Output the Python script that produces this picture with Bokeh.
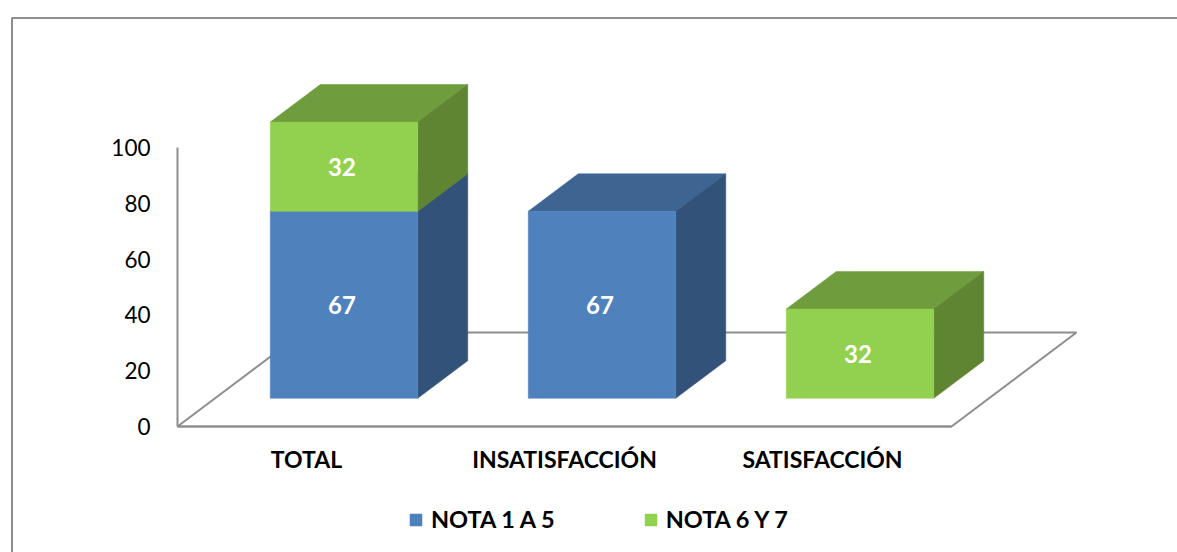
from bokeh.embed import file_html
from bokeh.resources import INLINE
from bokeh.plotting import figure
from bokeh.models import (ColumnDataSource, FixedTicker, Legend, LegendItem,
                          LinearAxis, Range1d)
from bokeh.core.properties import value

# ---- data ----
categories = ["TOTAL", "INSATISFACCIÓN", "SATISFACCIÓN"]
nota_1_a_5 = [67, 67, 0]
nota_6_y_7 = [32, 0, 32]
series_names = ["NOTA 1 A 5", "NOTA 6 Y 7"]
y_ticks = [0, 20, 40, 60, 80, 100]

# ---- style ----
FRONT = ["#4F81BD", "#92D050"]
SIDE = ["#32527A", "#5F8432"]
TOP = ["#3E6591", "#6F9C3C"]
GREY = "#8E8E8E"
FONT = "Lato"

W, H = 1177, 552
PX_X, PX_Y = 258.0, 2.79        # pixels per category, pixels per value unit
ORIGIN_X, ORIGIN_Y = 177.0, 426.0   # data (0,0) inside the canvas
DEPTH_X, DEPTH_Y = 125 / PX_X, 94 / PX_Y   # oblique shift of the full floor depth
HALF = 147.5 / 2 / PX_X
D0, D1 = 0.30, 0.70             # bar depth span on the floor


def proj(x, v, d):
    return x + d * DEPTH_X, v + d * DEPTH_Y


def quad(points):
    pts = [proj(*pt) for pt in points]
    return [a for a, _ in pts], [b for _, b in pts]


x0, x1 = -ORIGIN_X / PX_X, (W - ORIGIN_X) / PX_X
y1, y0 = ORIGIN_Y / PX_Y, -(H - ORIGIN_Y) / PX_Y

p = figure(width=W, height=H, output_backend="svg", toolbar_location=None,
           x_range=Range1d(x0, x1), y_range=Range1d(y0, y1),
           x_axis_location=None, y_axis_location=None,
           min_border=0, min_border_left=0, min_border_right=0,
           min_border_top=0, min_border_bottom=0,
           background_fill_color="white", border_fill_color="white")
p.outline_line_color = None
p.grid.visible = False

# outer frame of the chart object (right and bottom fall outside the picture)
fx, fy = x0 + 11.5 / PX_X, y1 - 17.5 / PX_Y
p.line([fx, fx, x1], [y0, fy, fy], line_color=GREY, line_width=2)

# floor outline
n = len(categories)
floor_x, floor_y = quad([(0, 0, 0), (n, 0, 0), (n, 0, 1), (0, 0, 1)])
p.patch(floor_x, floor_y, fill_color=None, line_color=GREY, line_width=2)

# bars
legend_items = []
bottoms = [0.0] * n
for s, vals in enumerate([nota_1_a_5, nota_6_y_7]):
    fronts, sides, tops = ([], []), ([], []), ([], [])
    lab_x, lab_y, lab_t = [], [], []
    for i, val in enumerate(vals):
        if val == 0:
            continue
        l, r = i + 0.5 - HALF, i + 0.5 + HALF
        b, t = bottoms[i], bottoms[i] + val
        bottoms[i] = t
        for store, pts in (
            (fronts, [(l, b, D0), (r, b, D0), (r, t, D0), (l, t, D0)]),
            (sides, [(r, b, D0), (r, b, D1), (r, t, D1), (r, t, D0)]),
            (tops, [(l, t, D0), (r, t, D0), (r, t, D1), (l, t, D1)]),
        ):
            xs, ys = quad(pts)
            store[0].append(xs)
            store[1].append(ys)
        cx, cy = proj(i + 0.5, (b + t) / 2, D0)
        lab_x.append(cx)
        lab_y.append(cy)
        lab_t.append(str(val))
    p.patches(tops[0], tops[1], fill_color=TOP[s], line_color=TOP[s], line_width=0.5)
    p.patches(sides[0], sides[1], fill_color=SIDE[s], line_color=SIDE[s], line_width=0.5)
    r_front = p.patches(fronts[0], fronts[1], fill_color=FRONT[s], line_color=FRONT[s], line_width=0.5)
    legend_items.append(LegendItem(label=series_names[s], renderers=[r_front]))
    p.text(x="x", y="y", text="t",
           source=ColumnDataSource(dict(x=lab_x, y=lab_y, t=lab_t)),
           text_color="white", text_font=value(FONT), text_font_style="bold",
           text_font_size="24px", text_align="center", text_baseline="middle",
           x_offset=-2)

# axes placed inside the frame at the chart's origin
yax = LinearAxis(fixed_location=0, ticker=FixedTicker(ticks=y_ticks), bounds=(0, 100))
yax.axis_line_color = GREY
yax.axis_line_width = 2
yax.major_tick_line_color = None
yax.minor_tick_line_color = None
yax.major_label_standoff = 21
yax.major_label_text_font = FONT
yax.major_label_text_font_size = "22.5px"
yax.major_label_text_color = "#000000"
p.add_layout(yax, "left")

xax = LinearAxis(fixed_location=0, ticker=FixedTicker(ticks=[i + 0.5 for i in range(n)]),
                 bounds=(0, n))
xax.major_label_overrides = {i + 0.5: c for i, c in enumerate(categories)}
xax.axis_line_color = GREY
xax.axis_line_width = 2
xax.major_tick_line_color = None
xax.minor_tick_line_color = None
xax.major_label_standoff = 12
xax.major_label_text_font = FONT
xax.major_label_text_font_style = "bold"
xax.major_label_text_font_size = "23px"
xax.major_label_text_color = "#000000"
p.add_layout(xax, "below")

legend = Legend(items=legend_items, orientation="horizontal",
                location=(408, 19), margin=0, padding=0, spacing=88,
                glyph_width=15, glyph_height=15, label_standoff=8,
                border_line_color=None, background_fill_alpha=0,
                label_text_font=FONT, label_text_font_style="bold",
                label_text_font_size="23.5px", label_text_color="#000000")
p.add_layout(legend, "center")

open("out.html", "w").write(file_html(p, INLINE))
